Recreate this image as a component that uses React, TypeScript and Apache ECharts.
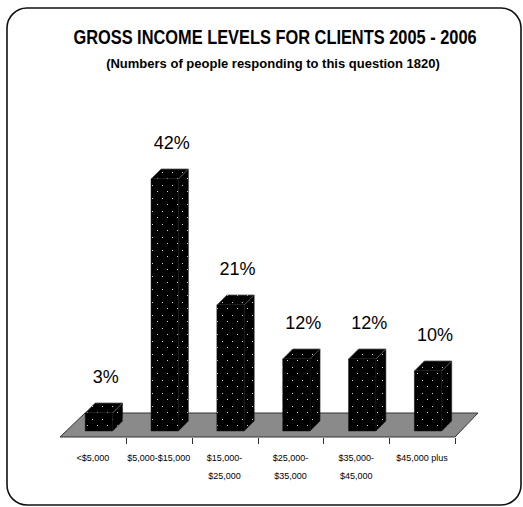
import React, { useEffect, useRef } from "react";
import * as echarts from "echarts";

const categories = [
  "<$5,000",
  "$5,000-$15,000",
  "$15,000-\n$25,000",
  "$25,000-\n$35,000",
  "$35,000-\n$45,000",
  "$45,000 plus",
];
const percentages = [3, 42, 21, 12, 12, 10];
const titleText = "GROSS INCOME LEVELS FOR CLIENTS 2005 - 2006";
const subtitleText = "(Numbers of people responding to this question 1820)";

const FONT = '"Liberation Sans", Arial, Helvetica, sans-serif';

function makePattern(): any {
  const c = document.createElement("canvas");
  c.width = 10;
  c.height = 13;
  const ctx = c.getContext("2d");
  if (!ctx) return "#000";
  ctx.fillStyle = "#000";
  ctx.fillRect(0, 0, 10, 13);
  ctx.fillStyle = "#d8d8d8";
  ctx.fillRect(2, 3, 1, 1);
  ctx.fillRect(7, 9, 1, 1);
  return { image: c, repeat: "repeat", imageWidth: 10, imageHeight: 13 };
}

export default function App() {
  const ref = useRef<HTMLDivElement>(null);

  useEffect(() => {
    if (!ref.current) return;
    const chart = echarts.init(ref.current, undefined, { renderer: "svg" });
    const pattern = makePattern();
    const DEPTH = 24;

    const option: any = {
      animation: false,
      backgroundColor: "#fff",
      grid: { left: 60, top: 137, width: 395, height: 300 },
      xAxis: {
        type: "category",
        data: categories,
        axisLine: { show: false },
        axisTick: { show: false },
        axisLabel: {
          interval: 0,
          margin: 12,
          fontSize: 9,
          lineHeight: 18,
          color: "#000",
          fontFamily: FONT,
        },
        splitLine: { show: false },
      },
      yAxis: { type: "value", min: 0, max: 50, show: false },
      graphic: [
        {
          type: "rect",
          shape: { x: 7, y: 8, width: 514, height: 497, r: 20 },
          style: { fill: "none", stroke: "#111", lineWidth: 1.6 },
        },
        {
          type: "text",
          x: 275,
          y: 37,
          scaleX: 0.82,
          style: {
            text: titleText,
            font: `bold 20px ${FONT}`,
            fill: "#000",
            textAlign: "center",
            textVerticalAlign: "middle",
          },
        },
        {
          type: "text",
          x: 273,
          y: 63,
          style: {
            text: subtitleText,
            font: `bold 13px ${FONT}`,
            fill: "#000",
            textAlign: "center",
            textVerticalAlign: "middle",
          },
        },
      ],
      series: [
        {
          type: "custom",
          name: "floor",
          silent: true,
          data: [[0, 0]],
          encode: { x: 0, y: 1 },
          renderItem: (params: any, api: any) => {
            const cs = params.coordSys;
            const x0 = cs.x;
            const x1 = cs.x + cs.width;
            const y0 = cs.y + cs.height;
            const band = api.size([1, 0])[0];
            const children: any[] = [
              {
                type: "polygon",
                shape: {
                  points: [
                    [x0, y0],
                    [x0 + DEPTH + 1, y0 - DEPTH],
                    [x1 + DEPTH - 1, y0 - DEPTH],
                    [x1, y0],
                  ],
                },
                style: { fill: "#8a8a8a", stroke: "#333", lineWidth: 1 },
              },
            ];
            for (let i = 1; i <= categories.length; i++) {
              const tx = Math.round(x0 + i * band) + 0.5;
              children.push({
                type: "line",
                shape: { x1: tx, y1: y0 + 1, x2: tx, y2: y0 + 7 },
                style: { stroke: "#333", lineWidth: 1 },
              });
            }
            return { type: "group", children };
          },
          z: 1,
        },
        {
          type: "custom",
          name: "bars",
          data: percentages.map((v, i) => [i, v]),
          encode: { x: 0, y: 1 },
          renderItem: (params: any, api: any) => {
            const i = api.value(0);
            const v = api.value(1);
            const base = api.coord([i, 0]);
            const top = api.coord([i, v]);
            const band = api.size([1, 0])[0];
            const w = band * 0.415;
            const d = 10;
            const off = 6;
            const xl = base[0] - band * 0.117;
            const xr = xl + w;
            const yb = base[1] - off;
            const yt = top[1] - off;
            return {
              type: "group",
              children: [
                {
                  type: "polygon",
                  shape: {
                    points: [
                      [xr, yb],
                      [xr, yt],
                      [xr + d, yt - d],
                      [xr + d, yb - d],
                    ],
                  },
                  style: { fill: pattern, stroke: "#222", lineWidth: 0.6 },
                },
                {
                  type: "polygon",
                  shape: {
                    points: [
                      [xl, yt],
                      [xl + d, yt - d],
                      [xr + d, yt - d],
                      [xr, yt],
                    ],
                  },
                  style: { fill: pattern, stroke: "#555", lineWidth: 0.8 },
                },
                {
                  type: "rect",
                  shape: { x: xl, y: yt, width: w, height: yb - yt },
                  style: { fill: pattern, stroke: "#111", lineWidth: 0.5 },
                },
                {
                  type: "text",
                  style: {
                    text: v + "%",
                    x: xl + w / 2 + d / 2 + 2,
                    y: top[1] - 42.5,
                    textAlign: "center",
                    textVerticalAlign: "middle",
                    font: `18px ${FONT}`,
                    fill: "#000",
                  },
                },
              ],
            };
          },
          z: 2,
        },
      ],
    };

    chart.setOption(option);
    return () => chart.dispose();
  }, []);

  return (
    <div
      ref={ref}
      style={{ position: "fixed", left: 0, top: 0, width: 523, height: 507 }}
    />
  );
}
